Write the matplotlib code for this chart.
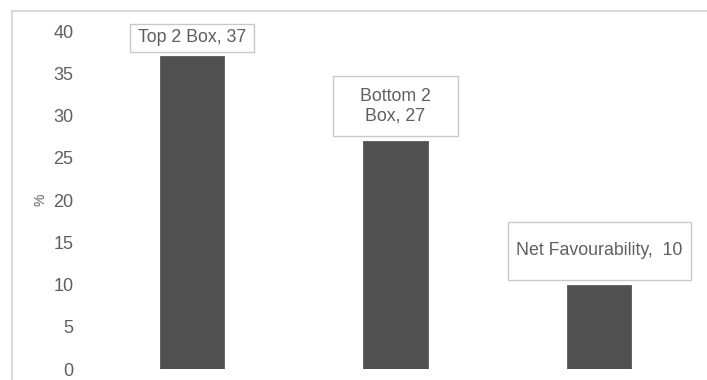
import matplotlib.pyplot as plt
from matplotlib.patches import Rectangle
from matplotlib.lines import Line2D

categories = ['Top 2 Box', 'Bottom 2 Box', 'Net Favourability']
values = [37, 27, 10]
label_texts = ['Top 2 Box, 37', 'Bottom 2\nBox, 27', 'Net Favourability,  10']
yticks = [0, 5, 10, 15, 20, 25, 30, 35, 40]

# label box sizes (data units): width along x, height along y
box_w = [0.61, 0.61, 0.90]
box_h = [3.3, 7.1, 6.85]
gap = 0.55

plt.rcParams['font.family'] = ['Liberation Sans', 'DejaVu Sans']
txt = '#5f5f5f'

fig = plt.figure(figsize=(7.07, 3.8), dpi=100)
ax = fig.add_axes([0.1273, 0.0289, 0.8642, 0.8895])

x = list(range(len(categories)))
ax.bar(x, values, width=0.315, color='#505050', edgecolor='#5a5a5a', linewidth=0.6)

for i, v in enumerate(values):
    bottom = v + gap
    ax.add_patch(Rectangle((i - box_w[i] / 2, bottom), box_w[i], box_h[i],
                           facecolor='white', edgecolor='#c8c8c8', linewidth=1.0,
                           zorder=3, clip_on=False))
    ax.text(i, bottom + box_h[i] / 2, label_texts[i], ha='center', va='center',
            color=txt, fontsize=12.8, linespacing=1.25, zorder=4)

ax.set_xlim(-0.5, 2.5)
ax.set_ylim(0, 40)
ax.set_yticks(yticks)
ax.set_xticks([])
ax.tick_params(axis='y', length=0, pad=12, labelsize=13, labelcolor=txt)
for s in ax.spines.values():
    s.set_visible(False)

ax.set_ylabel('%', fontsize=10, color=txt)
ax.yaxis.set_label_coords(-0.07, 0.5)

# light chart-area border along top and left
fig.add_artist(Line2D([12 / 707, 1], [1 - 11 / 380, 1 - 11 / 380], color='#d9d9d9', lw=1.5))
fig.add_artist(Line2D([12 / 707, 12 / 707], [0, 1 - 11 / 380], color='#d9d9d9', lw=1.5))

fig.savefig('out.png', dpi=100)
